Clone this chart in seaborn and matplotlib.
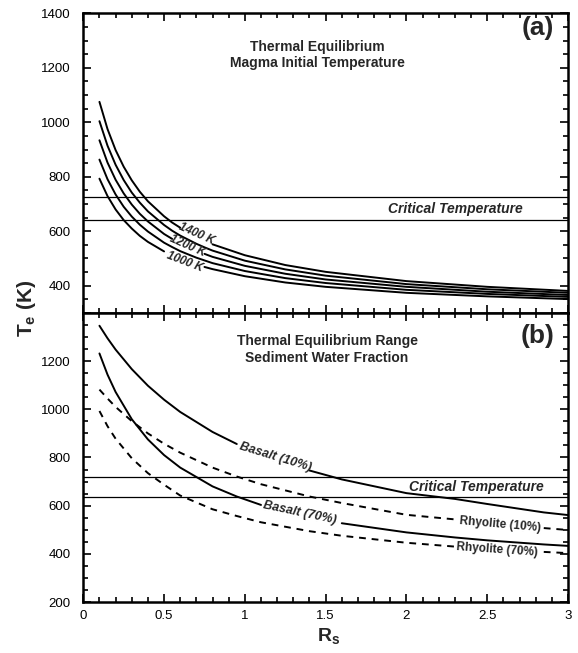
import numpy as np
import pandas as pd
import matplotlib
matplotlib.use("Agg")
import matplotlib.pyplot as plt
from matplotlib.ticker import MultipleLocator, FuncFormatter
import seaborn as sns

sns.set_style("ticks")
plt.rcParams["font.family"] = ["Liberation Sans", "DejaVu Sans"]
plt.rcParams["mathtext.fontset"] = "custom"
plt.rcParams["mathtext.bf"] = "Liberation Sans:bold"
plt.rcParams["mathtext.rm"] = "Liberation Sans:bold"

# ---- panel (a): magma initial temperature ----
rs_a = [0.1, 0.15, 0.2, 0.25, 0.3, 0.35, 0.4, 0.5, 0.55, 0.6, 0.7, 0.75, 0.8, 1.0, 1.25, 1.5, 2.0, 2.5, 3.0]
te_1400 = [1075, 975, 898, 837, 787, 745, 710, 655, 632, 613, 579, 565, 552, 512, 476, 451, 417, 396, 381]
te_1300 = [1004, 914, 844, 788, 742, 705, 673, 623, 602, 584, 554, 541, 529, 492, 460, 437, 406, 387, 374]
te_1200 = [934, 852, 789, 739, 698, 664, 636, 590, 572, 556, 528, 517, 506, 473, 444, 423, 396, 378, 366]
te_1100 = [863, 791, 735, 690, 654, 624, 599, 558, 542, 527, 503, 493, 483, 454, 428, 410, 385, 370, 359]
te_1000 = [793, 729, 680, 641, 610, 583, 561, 526, 511, 499, 478, 469, 461, 435, 412, 396, 374, 361, 351]
crit_a = [724, 640]

# ---- panel (b): sediment water fraction ----
rs_b = [0.1, 0.15, 0.2, 0.3, 0.4, 0.5, 0.6, 0.8, 0.95, 1.1, 1.4, 1.6, 2.0, 2.3, 2.5, 2.85, 3.0]
basalt_10 = [1347, 1295, 1248, 1167, 1098, 1040, 989, 906, 856, 814, 746, 709, 652, 628, 607, 572, 561]
basalt_70 = [1232, 1144, 1072, 959, 875, 810, 758, 680, 638, 603, 552, 527, 489, 468, 456, 439, 433]
rhyolite_10 = [1082, 1045, 1010, 951, 900, 857, 820, 758, 721, 689, 638, 611, 562, 543, 528, 507, 499]
rhyolite_70 = [993, 930, 878, 797, 735, 687, 642, 585, 557, 531, 494, 475, 446, 430, 421, 408, 403]
crit_b = [720, 636]

DASH = (0, (3.5, 3))


def draw(ax, rs, te, gap=None, ls="-"):
    df = pd.DataFrame({"rs": rs, "te": te})
    parts = [df] if gap is None else [df[df.rs <= gap[0]], df[df.rs >= gap[1]]]
    for part in parts:
        sns.lineplot(data=part, x="rs", y="te", ax=ax, color="black",
                     linewidth=1.4, linestyle=ls, estimator=None, sort=False)


def style_axes(ax):
    ax.set_xlim(0, 3)
    ax.xaxis.set_major_locator(MultipleLocator(0.5))
    ax.xaxis.set_minor_locator(MultipleLocator(0.1))
    ax.yaxis.set_major_locator(MultipleLocator(200))
    ax.yaxis.set_minor_locator(MultipleLocator(50))
    ax.tick_params(which="both", direction="in", top=True, right=True,
                   width=1.2, labelsize=9.5, colors="black")
    ax.tick_params(which="major", length=6)
    ax.tick_params(which="minor", length=3.5)
    ax.tick_params(axis="y", pad=9)
    ax.tick_params(axis="x", pad=6)
    for s in ax.spines.values():
        s.set_linewidth(1.8)
        s.set_color("black")
    ax.set_xlabel("")
    ax.set_ylabel("")


fig = plt.figure(figsize=(5.78, 6.53), dpi=100)
ax_a = fig.add_axes([0.1441, 0.5207, 0.8386, 0.4589])
ax_b = fig.add_axes([0.1441, 0.0781, 0.8386, 0.4426])

# panel (a)
draw(ax_a, rs_a, te_1400, gap=(0.6, 0.8))
draw(ax_a, rs_a, te_1300)
draw(ax_a, rs_a, te_1200, gap=(0.55, 0.75))
draw(ax_a, rs_a, te_1100)
draw(ax_a, rs_a, te_1000, gap=(0.5, 0.75))
for t in crit_a:
    ax_a.axhline(t, color="black", linewidth=0.9)
style_axes(ax_a)
ax_a.set_ylim(300, 1400)
ax_a.tick_params(labelbottom=False)

lab = dict(ha="center", va="center", fontsize=8.5, fontweight="bold",
           fontstyle="italic", rotation_mode="anchor")
ax_a.text(0.70, 591, "1400 K", rotation=-24, **lab)
ax_a.text(0.645, 547, "1200 K", rotation=-24, **lab)
ax_a.text(0.63, 489, "1000 K", rotation=-21, **lab)
ax_a.text(2.30, 681, "Critical Temperature", ha="center", va="center",
          fontsize=10, fontweight="bold", fontstyle="italic")
ax_a.text(0.483, 0.861, "Thermal Equilibrium\nMagma Initial Temperature",
          transform=ax_a.transAxes, ha="center", va="center", fontsize=10,
          fontweight="bold", linespacing=1.2)
ax_a.text(0.938, 0.951, "(a)", transform=ax_a.transAxes, ha="center",
          va="center", fontsize=19, fontweight="bold")

# panel (b)
draw(ax_b, rs_b, basalt_10, gap=(0.95, 1.4))
draw(ax_b, rs_b, basalt_70, gap=(1.1, 1.6))
draw(ax_b, rs_b, rhyolite_10, gap=(2.3, 2.85), ls=DASH)
draw(ax_b, rs_b, rhyolite_70, gap=(2.3, 2.85), ls=DASH)
for t in crit_b:
    ax_b.axhline(t, color="black", linewidth=0.9)
style_axes(ax_b)
ax_b.set_ylim(200, 1400)
ax_b.xaxis.set_major_formatter(FuncFormatter(lambda v, p: f"{v:g}"))
ax_b.yaxis.set_major_formatter(FuncFormatter(lambda v, p: "" if v >= 1400 else f"{v:g}"))

ax_b.text(1.19, 800, "Basalt (10%)", ha="center", va="center", fontsize=9,
          fontweight="bold", fontstyle="italic", rotation=-17, rotation_mode="anchor")
ax_b.text(1.34, 570, "Basalt (70%)", ha="center", va="center", fontsize=9,
          fontweight="bold", fontstyle="italic", rotation=-12, rotation_mode="anchor")
ax_b.text(2.58, 522, "Rhyolite (10%)", ha="center", va="center", fontsize=8.5,
          fontweight="bold", rotation=-5, rotation_mode="anchor")
ax_b.text(2.56, 415, "Rhyolite (70%)", ha="center", va="center", fontsize=8.5,
          fontweight="bold", rotation=-4, rotation_mode="anchor")
ax_b.text(2.43, 679, "Critical Temperature", ha="center", va="center",
          fontsize=10, fontweight="bold", fontstyle="italic")
ax_b.text(0.503, 0.873, "Thermal Equilibrium Range\nSediment Water Fraction",
          transform=ax_b.transAxes, ha="center", va="center", fontsize=10,
          fontweight="bold", linespacing=1.3)
ax_b.text(0.938, 0.922, "(b)", transform=ax_b.transAxes, ha="center",
          va="center", fontsize=19, fontweight="bold")

fig.text(0.046, 0.528, r"T$_{\mathbf{e}}$ (K)", rotation=90, ha="center",
         va="center", fontsize=15, fontweight="bold")
fig.text(0.549, 0.018, r"R$_{\mathbf{s}}$", ha="left", va="baseline",
         fontsize=14, fontweight="bold")

fig.savefig("out.png", dpi=100)
